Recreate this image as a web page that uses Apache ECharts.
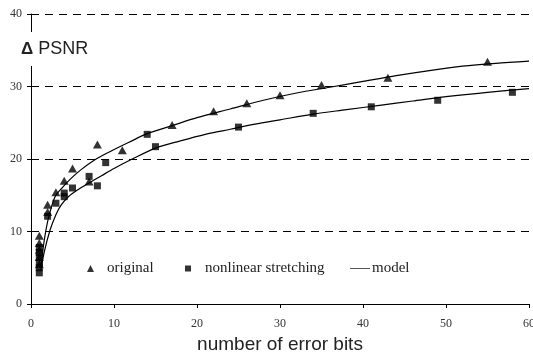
<!DOCTYPE html>
<html>
<head>
<meta charset="utf-8">
<script src="https://cdn.jsdelivr.net/npm/echarts@6/dist/echarts.min.js"></script>
<style>
html,body{margin:0;padding:0;background:#fff;}
#main{width:533px;height:357px;}
</style>
</head>
<body>
<div id="main"></div>
<script>
// values
var origX = [1, 1, 1, 1, 1, 2, 2, 3, 4, 5, 7, 8, 11, 17, 22, 26, 30, 35, 43, 55];
var origY = [5.5, 6.5, 7.5, 8.4, 9.4, 13.7, 12.7, 15.4, 17, 18.7, 16.9, 22, 21.2, 24.7, 26.6, 27.7, 28.8, 30.2, 31.2, 33.4];

var nlX = [1, 1, 1, 1, 1, 1, 2, 3, 4, 4, 5, 7, 8, 9, 14, 15, 25, 34, 41, 49, 58];
var nlY = [4.3, 5.0, 5.7, 6.4, 7.1, 7.8, 12.1, 13.9, 14.8, 15.3, 16, 17.6, 16.3, 19.5, 23.4, 21.7, 24.4, 26.3, 27.2, 28.1, 29.2];

var modelUpX = [1.2, 1.5, 1.8, 2.2, 2.9, 3.8, 4.8, 6, 7.7, 9.5, 11.8, 14, 17, 20, 24, 28, 32, 36, 40, 44, 48, 52, 56, 60];
var modelUpY = [5, 8, 10.2, 12.3, 14.8, 16.1, 17.3, 18.5, 19.9, 21, 22.3, 23.5, 24.6, 25.7, 26.9, 28.1, 29.1, 29.9, 30.7, 31.5, 32.2, 32.8, 33.2, 33.5];

var modelLoX = [1.2, 1.6, 2.3, 3, 3.6, 4.5, 5.7, 7, 8.5, 10, 12.2, 15, 18, 21, 24, 27, 30, 34, 38, 42, 46, 50, 55, 60];
var modelLoY = [4.7, 7.2, 10.2, 12.3, 13.6, 14.8, 15.8, 16.7, 17.7, 18.7, 20, 21.5, 22.5, 23.4, 24.1, 24.8, 25.4, 26.2, 26.8, 27.4, 28, 28.6, 29.2, 29.7];

function pairs(xs, ys)
{
	var out = [];
	for (var i = 0; i < xs.length; i++) {
		out.push([xs[i], ys[i]]);
	}
	return out;
}

var serif = '"Liberation Serif", "Times New Roman", serif';
var sans = '"Liberation Sans", Arial, sans-serif';
var legendText = { fontFamily: serif, fontSize: 15, color: '#222' };

var option = {
	backgroundColor: '#fff',
	animation: false,
	title: {
		text: '{d|\u0394} PSNR',
		left: 17,
		top: 32,
		padding: [8, 4, 8, 4],
		backgroundColor: '#fff',
		textStyle: {
			fontFamily: sans, fontSize: 18, fontWeight: 'normal', color: '#222',
			rich: { d: { fontFamily: sans, fontSize: 17, fontWeight: 'bold', color: '#222' } }
		}
	},
	legend: [
		{
			data: ['original'], left: 87, top: 261, padding: 0, icon: 'triangle',
			itemWidth: 7, itemHeight: 7,
			textStyle: Object.assign({ padding: [0, 0, 0, 8] }, legendText)
		},
		{
			data: ['nonlinear stretching'], left: 185, top: 261, padding: 0, icon: 'rect',
			itemWidth: 6, itemHeight: 6,
			textStyle: Object.assign({ padding: [0, 0, 0, 9] }, legendText)
		},
		{
			data: ['model'], left: 350, top: 261, padding: 0, icon: 'path://M0,0 L30,0 L30,1 L0,1 Z',
			itemWidth: 20, itemHeight: 1,
			textStyle: Object.assign({ padding: [0, 0, 0, -3] }, legendText)
		}
	],
	grid: { left: 31, right: 4, top: 14, bottom: 53, outerBoundsMode: 'none', containLabel: false },
	xAxis: {
		type: 'value', min: 0, max: 60, interval: 10,
		name: 'number of error bits', nameLocation: 'middle', nameGap: 31,
		nameTextStyle: { fontFamily: sans, fontSize: 19, color: '#222' },
		axisLine: { lineStyle: { color: '#000', width: 1 } },
		axisTick: { show: true, length: 4, inside: false, lineStyle: { color: '#000' } },
		axisLabel: { fontFamily: serif, fontSize: 12, color: '#333', margin: 14, showMaxLabel: true, hideOverlap: false },
		splitLine: { show: false }
	},
	yAxis: {
		type: 'value', min: 0, max: 40, interval: 10,
		axisLine: { show: true, lineStyle: { color: '#000', width: 1 } },
		axisTick: { show: true, length: 4, lineStyle: { color: '#000' } },
		axisLabel: { fontFamily: serif, fontSize: 12, color: '#333', margin: 9 },
		splitLine: { show: true, lineStyle: { color: '#000', width: 1, type: [8, 6] } }
	},
	series: [
		{
			name: 'original', type: 'scatter', symbol: 'triangle', symbolSize: [9, 8],
			itemStyle: { color: '#000' }, data: pairs(origX, origY), z: 3
		},
		{
			name: 'nonlinear stretching', type: 'scatter', symbol: 'rect', symbolSize: 7,
			itemStyle: { color: '#000' }, data: pairs(nlX, nlY), z: 3
		},
		{
			name: 'model', type: 'line', showSymbol: false, symbol: 'none', smooth: 0.3,
			lineStyle: { color: '#000', width: 1.2 }, itemStyle: { color: '#000' },
			data: pairs(modelUpX, modelUpY)
		},
		{
			name: 'model', type: 'line', showSymbol: false, symbol: 'none', smooth: 0.3,
			lineStyle: { color: '#000', width: 1.2 }, itemStyle: { color: '#000' },
			data: pairs(modelLoX, modelLoY)
		}
	]
};

var myChart = echarts.init(document.getElementById('main'));
myChart.setOption(option);
</script>
</body>
</html>
